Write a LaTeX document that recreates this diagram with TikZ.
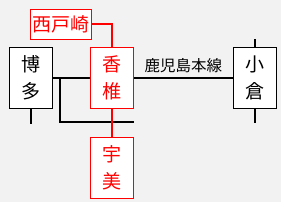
\documentclass[tikz,border=0pt]{standalone}
\usepackage{fontspec}
\newfontfamily\jpfont{Noto Sans CJK JP}
\definecolor{bgcol}{HTML}{F2F2F2}
\definecolor{jrred}{HTML}{FF0000}
\tikzset{
  stn/.style={draw=black,line width=1pt,fill=white,minimum width=43pt,minimum height=61pt,inner sep=0pt,align=center,font=\jpfont\fontsize{19}{27}\selectfont},
  redstn/.style={stn,draw=jrred,text=jrred},
  track/.style={line width=2pt,black},
  redtrack/.style={line width=2pt,jrred}
}

\begin{document}
\begin{tikzpicture}[x=1pt,y=-1pt]
\fill[bgcol] (0,0) rectangle (281,202);
\node[stn] (Hakata) at (30.5,77.5) {博\\多};
\node[redstn] (Kashii) at (112,77.5) {香\\椎};
\node[stn] (Kokura) at (254.5,77.5) {小\\倉};
\node[redstn] (Umi) at (112,167.5) {宇\\美};
\node[redstn,minimum width=61pt,minimum height=30pt,font=\jpfont\fontsize{19}{20}\selectfont] (Nishitozaki) at (60.5,24) {西戸崎};
\coordinate (jct) at (60,77.5);
\coordinate (brend) at (134,122);
\draw[track] (Hakata.east)--(Kashii.west);
\draw[track] (Kashii.east)--node[midway,above,text=black,font=\jpfont\fontsize{15.5}{15.5}\selectfont,inner sep=4pt] {鹿児島本線} (Kokura.west);
\draw[track] (jct)|-(brend);
\draw[track] (Hakata.south)--++(0,15);
\draw[track] (Kokura.north)--++(0,-8);
\draw[track] (Kokura.south)--++(0,14);
\draw[redtrack] (Kashii.south)--(Umi.north);
\draw[redtrack] (Nishitozaki.east)-|(Kashii.north);
\end{tikzpicture}
\end{document}
